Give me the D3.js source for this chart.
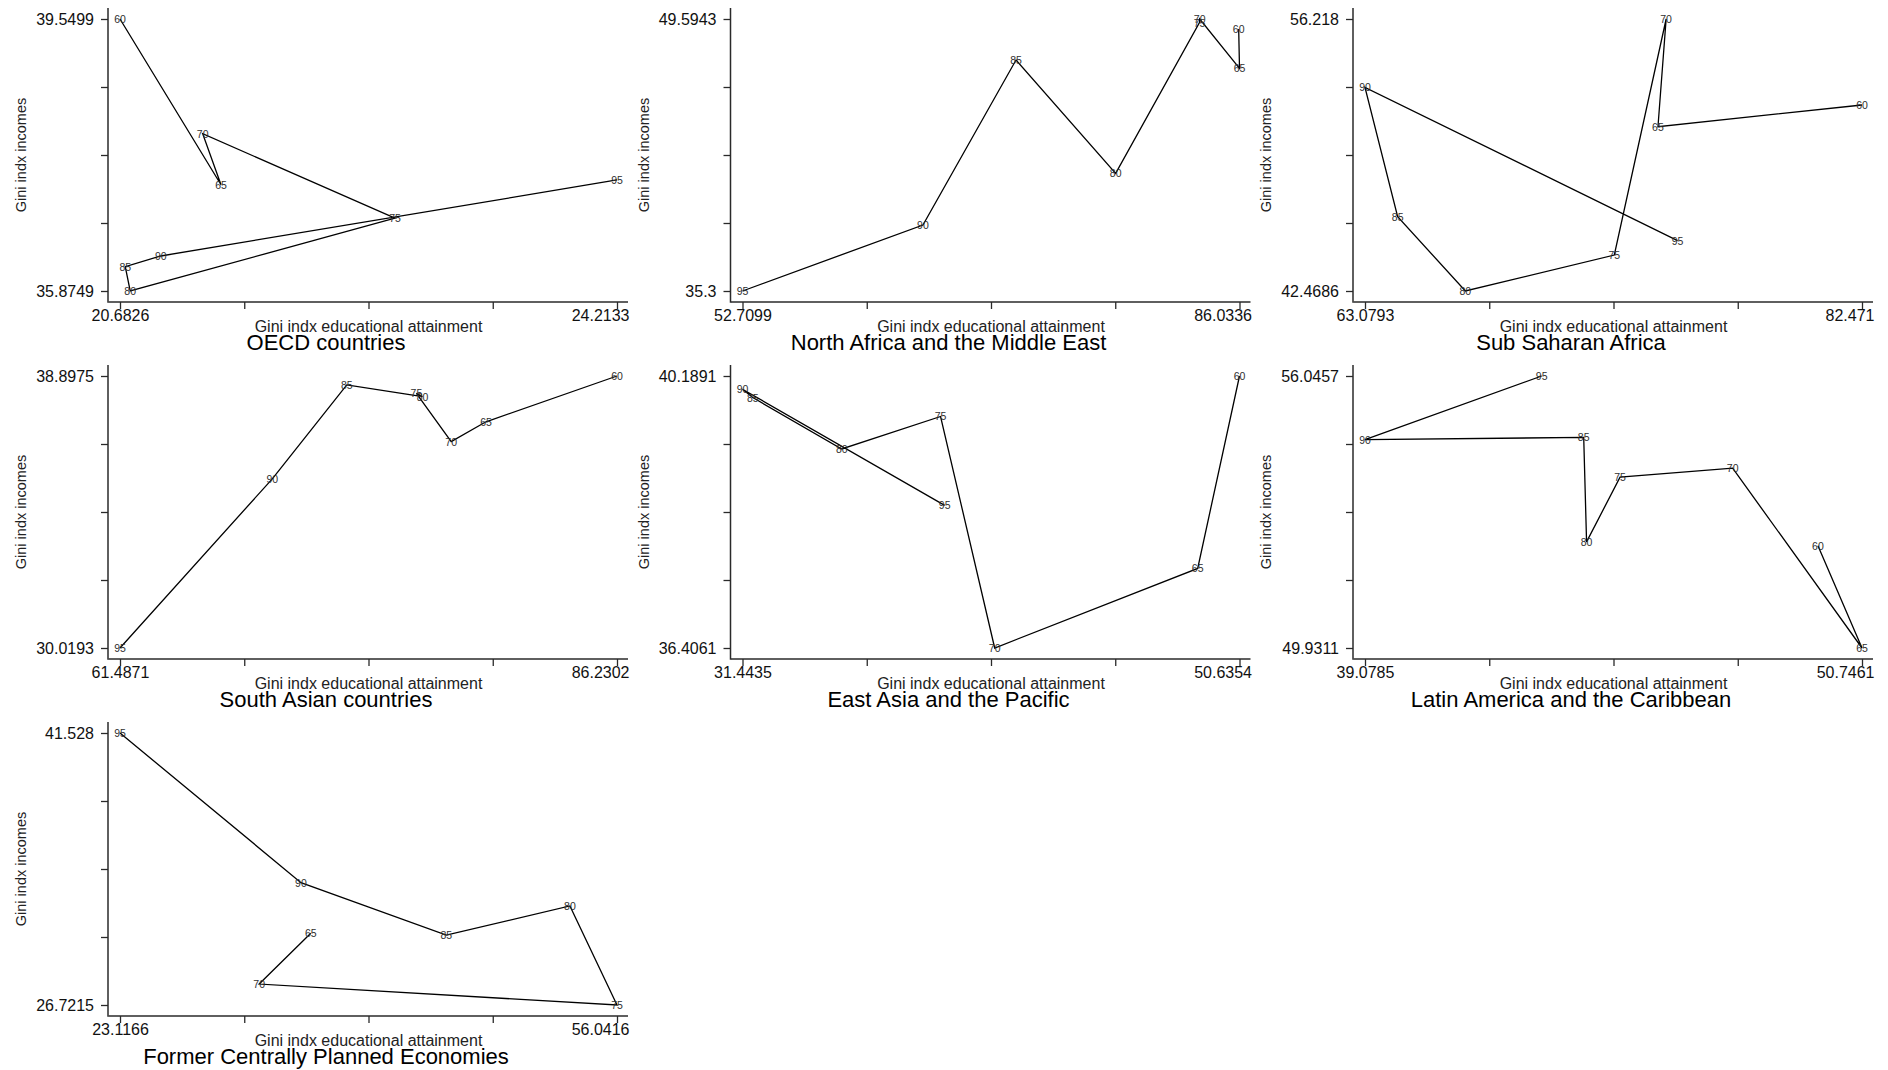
<!DOCTYPE html>
<html>
<head>
<meta charset="utf-8">
<script src="https://cdn.jsdelivr.net/npm/d3@7"></script>
<style>
  html, body { margin: 0; padding: 0; background: #fff; }
  svg { display: block; font-family: "Liberation Sans", Arial, Helvetica, sans-serif; }
</style>
</head>
<body>
<svg id="chart" width="1888" height="1070"></svg>
<script>
// Survey years (1960–1995), used as point labels
const years = ["60", "65", "70", "75", "80", "85", "90", "95"];

// Gini index of educational attainment (x) and of incomes (y), by region
const oecdEdu   = [20.6826, 21.40, 21.27, 22.636, 20.755, 20.72, 20.973, 24.2133];
const oecdInc   = [39.5499, 37.31, 38.00, 36.86, 35.8749, 36.204, 36.348, 37.375];

const menaEdu   = [85.979, 86.0336, 83.366, 83.35, 77.73, 71.049, 64.808, 52.7099];
const menaInc   = [49.069, 47.002, 49.5943, 49.402, 41.484, 47.44, 38.769, 35.3];

const ssaEdu    = [82.471, 74.51, 74.829, 72.807, 66.996, 64.353, 63.0793, 75.275];
const ssaInc    = [51.871, 50.776, 56.218, 44.288, 42.4686, 46.226, 52.764, 45.013];

const sasEdu    = [86.2302, 79.708, 77.976, 76.243, 76.549, 72.778, 69.069, 61.4871];
const sasInc    = [38.8975, 37.403, 36.754, 38.334, 38.226, 38.605, 35.541, 30.0193];

const eapEdu    = [50.6354, 49.021, 41.182, 39.092, 35.276, 31.84, 31.4435, 39.25];
const eapInc    = [40.1891, 37.513, 36.4061, 39.626, 39.174, 39.889, 40.005, 38.39];

const lacEdu    = [49.712, 50.7461, 47.71, 45.066, 44.28, 44.213, 39.0785, 43.226];
const lacInc    = [52.228, 49.9311, 53.973, 53.771, 52.317, 54.666, 54.614, 56.0457];

// No 1960 observation for the former centrally planned economies
const fcpeYears = ["65", "70", "75", "80", "85", "90", "95"];
const fcpeEdu   = [35.755, 32.338, 56.0416, 52.923, 44.733, 35.104, 23.1166];
const fcpeInc   = [30.631, 27.862, 26.7215, 32.116, 30.523, 33.383, 41.528];

const regionNames = [
  "OECD countries",
  "North Africa and the Middle East",
  "Sub Saharan Africa",
  "South Asian countries",
  "East Asia and the Pacific",
  "Latin America and the Caribbean",
  "Former Centrally Planned Economies"
];

const xTitle = "Gini indx educational attainment";
const yTitle = "Gini indx incomes";

const panels = [
  { name: regionNames[0], yrs: years, x: oecdEdu, y: oecdInc },
  { name: regionNames[1], yrs: years, x: menaEdu, y: menaInc },
  { name: regionNames[2], yrs: years, x: ssaEdu,  y: ssaInc },
  { name: regionNames[3], yrs: years, x: sasEdu,  y: sasInc },
  { name: regionNames[4], yrs: years, x: eapEdu,  y: eapInc },
  { name: regionNames[5], yrs: years, x: lacEdu,  y: lacInc },
  { name: regionNames[6], yrs: fcpeYears, x: fcpeEdu, y: fcpeInc }
];

// Panel geometry
const plotW = 497, plotH = 272;
const colStep = 622.5, rowStep = 357;
const left0 = 120, top0 = 19;
const axisGap = 11;      // axis lines sit slightly outside the plot region
const tickLen = 7;
const axisColor = "#2a2a2a";

const svg = d3.select("#chart");

panels.forEach((p, i) => {
  const col = i % 3, row = Math.floor(i / 3);
  const g = svg.append("g")
    .attr("transform", `translate(${left0 + col * colStep},${top0 + row * rowStep})`);

  const xExt = d3.extent(p.x), yExt = d3.extent(p.y);
  const x = d3.scaleLinear().domain(xExt).range([0, plotW]);
  const y = d3.scaleLinear().domain(yExt).range([plotH, 0]);

  const ticksOf = ext => d3.range(5).map(k => ext[0] + (ext[1] - ext[0]) * k / 4);
  const endLabel = ext => (d, k) => (k === 0 ? String(ext[0]) : k === 4 ? String(ext[1]) : "");

  // x axis
  const gx = g.append("g")
    .attr("transform", `translate(0,${plotH + axisGap})`)
    .call(d3.axisBottom(x).tickValues(ticksOf(xExt)).tickFormat(endLabel(xExt))
      .tickSize(tickLen).tickSizeOuter(0).tickPadding(1));
  gx.select(".domain").remove();
  gx.selectAll(".tick line").attr("stroke", axisColor).attr("stroke-width", 1.3);
  gx.selectAll(".tick text").attr("font-size", 16).attr("fill", "#111")
    .attr("font-family", "Liberation Sans, Arial, sans-serif");
  // keep the right-hand label inside the axis line's extent
  const axisEnd = plotW + axisGap + 1;
  gx.selectAll(".tick").each(function (v) {
    const t = d3.select(this).select("text");
    const w = t.node().getComputedTextLength();
    if (w > 0 && x(v) + w / 2 > axisEnd) {
      t.attr("text-anchor", "end").attr("x", axisEnd - x(v));
    }
  });
  gx.append("line")
    .attr("x1", -axisGap - 0.5).attr("x2", plotW + axisGap)
    .attr("y1", 0).attr("y2", 0)
    .attr("stroke", axisColor).attr("stroke-width", 1.5);

  // y axis
  const gy = g.append("g")
    .attr("transform", `translate(${-axisGap - 1},0)`)
    .call(d3.axisLeft(y).tickValues(ticksOf(yExt)).tickFormat(endLabel(yExt))
      .tickSize(tickLen).tickSizeOuter(0).tickPadding(7));
  gy.select(".domain").remove();
  gy.selectAll(".tick line").attr("stroke", axisColor).attr("stroke-width", 1.3);
  gy.selectAll(".tick text").attr("font-size", 16).attr("fill", "#111")
    .attr("font-family", "Liberation Sans, Arial, sans-serif");
  gy.append("line")
    .attr("x1", 0).attr("x2", 0)
    .attr("y1", -axisGap).attr("y2", plotH + axisGap + 0.75)
    .attr("stroke", axisColor).attr("stroke-width", 1.5);

  // axis titles
  g.append("text")
    .attr("x", plotW / 2).attr("y", plotH + axisGap + 29.5)
    .attr("text-anchor", "middle").attr("font-size", 16).attr("fill", "#222")
    .text(xTitle);
  g.append("text")
    .attr("transform", `translate(${-axisGap - 1 - 82},${plotH / 2}) rotate(-90)`)
    .attr("text-anchor", "middle").attr("font-size", 14.5).attr("fill", "#222")
    .text(yTitle);

  // panel title
  g.append("text")
    .attr("x", 206).attr("y", plotH + axisGap + 47.5)
    .attr("text-anchor", "middle").attr("font-size", 22).attr("fill", "#000")
    .text(p.name);

  // connected path through the years in order
  const pts = p.yrs.map((yr, k) => ({ yr, ex: p.x[k], inc: p.y[k] }));
  g.append("path")
    .datum(pts)
    .attr("fill", "none").attr("stroke", "#000").attr("stroke-width", 1.3)
    .attr("stroke-linejoin", "miter")
    .attr("d", d3.line().x(d => x(d.ex)).y(d => y(d.inc)));

  // year labels centred on each point
  g.selectAll("text.yr")
    .data(pts)
    .join("text")
    .attr("class", "yr")
    .attr("x", d => x(d.ex)).attr("y", d => y(d.inc))
    .attr("text-anchor", "middle").attr("dominant-baseline", "central")
    .attr("font-size", 10.5).attr("fill", "#2e2e2e")
    .text(d => d.yr);
});
</script>
</body>
</html>
